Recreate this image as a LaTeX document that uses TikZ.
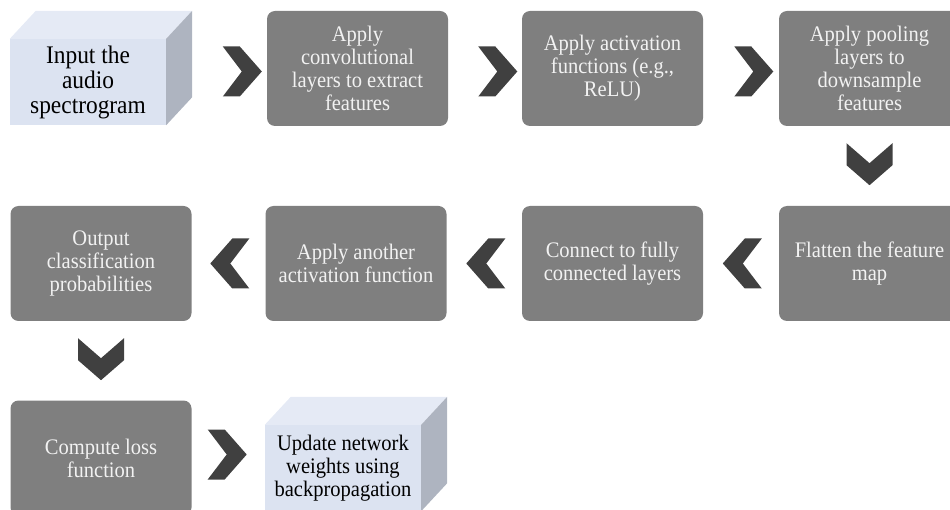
\documentclass[tikz,border=0pt]{standalone}
\usepackage{fontspec}
\setmainfont{Liberation Serif}[FakeStretch=0.925]
\usetikzlibrary{calc}

\definecolor{boxgray}{HTML}{7F7F7F}
\definecolor{chevgray}{HTML}{404040}
\definecolor{boxtext}{HTML}{F2F2F2}
\definecolor{cubefront}{HTML}{DCE3F1}
\definecolor{cubetop}{HTML}{E5EAF5}
\definecolor{cubeside}{HTML}{AEB4C0}

\tikzset{
  stepbox/.style={fill=boxgray, text=boxtext, rounded corners=8pt,
    minimum width=181pt, minimum height=115pt, inner sep=0pt, align=center,
    font=\fontsize{22.2}{23}\selectfont},
  cubebox/.style={fill=cubefront, text=black,
    minimum width=156pt, minimum height=86pt, inner sep=0pt, align=center,
    font=\fontsize{22.2}{23}\selectfont},
  bigtext/.style={font=\fontsize{25.3}{25}\selectfont},
  chevright/.pic={\fill[chevgray] (-19.5,-25) -- (-2.5,-25) -- (19.5,0) -- (-2.5,25) -- (-19.5,25) -- (-0.5,0) -- cycle;},
  chevleft/.pic={\fill[chevgray] (19.5,-25) -- (2.5,-25) -- (-19.5,0) -- (2.5,25) -- (19.5,25) -- (0.5,0) -- cycle;},
  chevdown/.pic={\fill[chevgray] (-23,-21) -- (0,-1) -- (23,-21) -- (23,1) -- (0,21) -- (-23,1) -- cycle;},
}

% draws the top and side faces behind a cube's front node
\newcommand{\cubefaces}[1]{%
  \fill[cubetop] (#1.north west) -- (#1.north east) -- ++(26,-28)
    -- ($(#1.north west)+(26,-28)$) -- cycle;
  \fill[cubeside] (#1.north east) -- ++(26,-28)
    -- ($(#1.south east)+(26,-28)$) -- (#1.south east) -- cycle;
}

\begin{document}
\begin{tikzpicture}[x=1pt, y=-1pt]
  \useasboundingbox (0,0) rectangle (950,510);
  \clip (0,0) rectangle (950,510);

  % row 1
  \node[cubebox, bigtext] (input) at (88,82) {Input the\\audio\\spectrogram};
  \cubefaces{input}
  \node[stepbox] (conv) at (357.5,68.5) {Apply\\convolutional\\layers to extract\\features};
  \node[stepbox] (act) at (612.5,68.5) {Apply activation\\functions (e.g.,\\ReLU)};
  \node[stepbox] (pool) at (869.5,68.5) {Apply pooling\\layers to\\downsample\\features};

  % row 2
  \node[stepbox] (flat) at (869.5,263.5) {Flatten the feature\\map};
  \node[stepbox] (fc) at (612.5,263.5) {Connect to fully\\connected layers};
  \node[stepbox] (act2) at (356,263.5) {Apply another\\activation function};
  \node[stepbox] (out) at (101,263.5) {Output\\classification\\probabilities};

  % row 3
  \node[stepbox] (loss) at (101,458) {Compute loss\\function};
  \node[cubebox] (update) at (343,468) {Update network\\weights using\\backpropagation};
  \cubefaces{update}

  % chevrons between the steps
  \pic at ($(conv.west)+(-24.5,3)$) {chevright};
  \pic at ($(act.west)+(-24,3)$) {chevright};
  \pic at ($(pool.west)+(-25,3)$) {chevright};
  \pic at ($(pool.south)+(0,38)$) {chevdown};
  \pic at ($(flat.west)+(-36.5,0)$) {chevleft};
  \pic at ($(fc.west)+(-36,0)$) {chevleft};
  \pic at ($(act2.west)+(-35.5,0)$) {chevleft};
  \pic at ($(out.south)+(0,38)$) {chevdown};
  \pic at ($(loss.east)+(35.5,-3.5)$) {chevright};
\end{tikzpicture}
\end{document}
